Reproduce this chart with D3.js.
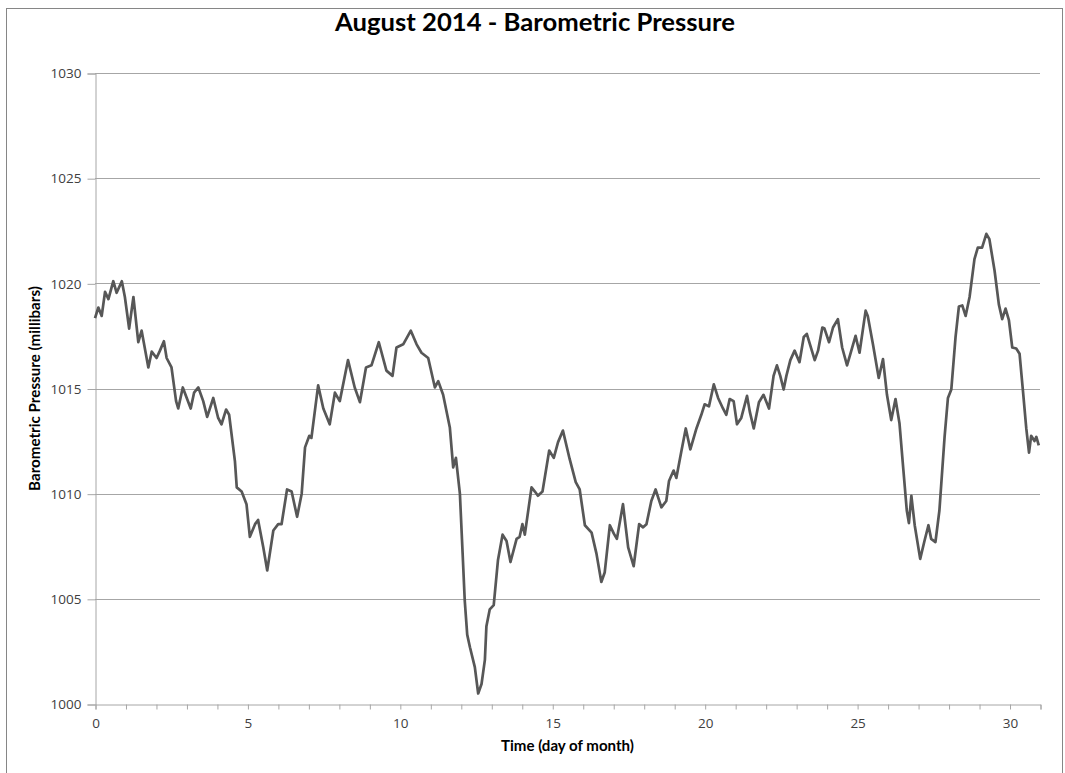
<!DOCTYPE html>
<html>
<head>
<meta charset="utf-8">
<script src="https://cdn.jsdelivr.net/npm/d3@7"></script>
<style>
  html, body { margin: 0; padding: 0; background: #ffffff; }
  svg { display: block; }
</style>
</head>
<body>
<svg id="chart" width="1065" height="773"></svg>
<script>
// ---- data ----
const chartTitle = "August 2014 - Barometric Pressure";
const xAxisTitle = "Time (day of month)";
const yAxisTitle = "Barometric Pressure (millibars)";

const xTickValues = [0, 5, 10, 15, 20, 25, 30];
const yTickValues = [1000, 1005, 1010, 1015, 1020, 1025, 1030];

const days = [
  0.00, 0.11, 0.22, 0.33, 0.44, 0.60, 0.71, 0.88, 0.98, 1.12,
  1.26, 1.42, 1.53, 1.75, 1.86, 2.02, 2.13, 2.26, 2.35, 2.51,
  2.66, 2.73, 2.88, 3.01, 3.14, 3.25, 3.39, 3.55, 3.68, 3.88,
  4.04, 4.15, 4.30, 4.40, 4.59, 4.65, 4.81, 4.97, 5.08, 5.25,
  5.35, 5.52, 5.65, 5.85, 6.01, 6.12, 6.30, 6.45, 6.63, 6.78,
  6.89, 7.03, 7.10, 7.32, 7.49, 7.70, 7.87, 8.03, 8.30, 8.52,
  8.69, 8.89, 9.07, 9.31, 9.56, 9.76, 9.89, 10.11, 10.36, 10.55,
  10.71, 10.93, 11.15, 11.26, 11.42, 11.64, 11.75, 11.84, 11.97, 12.06,
  12.13, 12.21, 12.30, 12.46, 12.57, 12.68, 12.79, 12.84, 12.95, 13.08,
  13.22, 13.37, 13.50, 13.63, 13.83, 13.93, 14.02, 14.10, 14.32, 14.43,
  14.53, 14.68, 14.90, 15.05, 15.19, 15.35, 15.57, 15.77, 15.90, 16.07,
  16.29, 16.45, 16.61, 16.72, 16.89, 17.02, 17.12, 17.32, 17.49, 17.67,
  17.85, 17.98, 18.09, 18.25, 18.39, 18.58, 18.74, 18.83, 18.98, 19.07,
  19.24, 19.38, 19.53, 19.73, 19.89, 20.00, 20.14, 20.30, 20.44, 20.60,
  20.71, 20.82, 20.95, 21.06, 21.20, 21.39, 21.48, 21.61, 21.78, 21.93,
  22.11, 22.26, 22.37, 22.48, 22.59, 22.68, 22.81, 22.95, 23.11, 23.25,
  23.35, 23.61, 23.72, 23.86, 23.93, 24.08, 24.21, 24.37, 24.51, 24.67,
  24.78, 24.95, 25.08, 25.28, 25.35, 25.52, 25.71, 25.85, 25.98, 26.12,
  26.26, 26.39, 26.52, 26.63, 26.70, 26.78, 26.89, 27.07, 27.21, 27.34,
  27.43, 27.57, 27.70, 27.87, 27.98, 28.09, 28.23, 28.34, 28.45, 28.56,
  28.69, 28.85, 28.96, 29.10, 29.24, 29.34, 29.51, 29.65, 29.76, 29.87,
  29.98, 30.09, 30.22, 30.33, 30.44, 30.55, 30.64, 30.71, 30.82, 30.88,
  30.96
];

const pressure = [
  1018.35, 1018.85, 1018.45, 1019.60, 1019.25, 1020.10, 1019.55, 1020.10, 1019.35, 1017.85,
  1019.35, 1017.20, 1017.75, 1016.00, 1016.75, 1016.45, 1016.80, 1017.25, 1016.45, 1016.00,
  1014.40, 1014.05, 1015.05, 1014.55, 1014.05, 1014.80, 1015.05, 1014.40, 1013.65, 1014.55,
  1013.60, 1013.30, 1014.00, 1013.75, 1011.55, 1010.30, 1010.10, 1009.50, 1007.95, 1008.55,
  1008.75, 1007.45, 1006.35, 1008.25, 1008.55, 1008.55, 1010.20, 1010.10, 1008.90, 1010.00,
  1012.20, 1012.75, 1012.65, 1015.15, 1014.05, 1013.30, 1014.80, 1014.40, 1016.35, 1015.05,
  1014.35, 1016.00, 1016.10, 1017.20, 1015.85, 1015.60, 1016.95, 1017.10, 1017.75, 1017.10,
  1016.70, 1016.45, 1015.05, 1015.35, 1014.70, 1013.15, 1011.25, 1011.70, 1010.00, 1007.15,
  1004.90, 1003.30, 1002.70, 1001.75, 1000.50, 1000.95, 1002.10, 1003.70, 1004.50, 1004.70,
  1006.85, 1008.05, 1007.75, 1006.75, 1007.85, 1007.95, 1008.55, 1008.05, 1010.30, 1010.10,
  1009.90, 1010.10, 1012.05, 1011.70, 1012.45, 1013.00, 1011.65, 1010.55, 1010.20, 1008.50,
  1008.15, 1007.15, 1005.80, 1006.25, 1008.50, 1008.10, 1007.85, 1009.50, 1007.45, 1006.55,
  1008.55, 1008.40, 1008.55, 1009.65, 1010.20, 1009.35, 1009.65, 1010.60, 1011.10, 1010.75,
  1012.05, 1013.10, 1012.10, 1013.10, 1013.75, 1014.25, 1014.15, 1015.20, 1014.55, 1014.05,
  1013.75, 1014.50, 1014.40, 1013.30, 1013.60, 1014.65, 1013.90, 1013.10, 1014.35, 1014.70,
  1014.05, 1015.60, 1016.10, 1015.60, 1014.95, 1015.60, 1016.35, 1016.80, 1016.25, 1017.45,
  1017.60, 1016.35, 1016.80, 1017.90, 1017.85, 1017.20, 1017.90, 1018.30, 1016.95, 1016.10,
  1016.65, 1017.50, 1016.70, 1018.70, 1018.45, 1017.10, 1015.50, 1016.40, 1014.70, 1013.50,
  1014.50, 1013.35, 1011.10, 1009.20, 1008.60, 1009.90, 1008.50, 1006.90, 1007.75, 1008.50,
  1007.85, 1007.70, 1009.20, 1012.70, 1014.55, 1014.95, 1017.45, 1018.90, 1018.95, 1018.45,
  1019.35, 1021.15, 1021.70, 1021.70, 1022.35, 1022.10, 1020.60, 1019.00, 1018.30, 1018.80,
  1018.25, 1016.95, 1016.90, 1016.65, 1014.90, 1013.10, 1011.95, 1012.75, 1012.50, 1012.70,
  1012.30
];

// ---- layout ----
const W = 1065, H = 773;
const plot = { left: 95, right: 1040, top: 73, bottom: 704 };
const gridColor = "#a6a6a6";
const axisColor = "#a6a6a6";
const lineColor = "#575757";
const textColor = "#404040";
const fontFamily = "'Open Sans', 'Liberation Sans', sans-serif";
const titleFont = "Lato, 'Open Sans', sans-serif";

const svg = d3.select("#chart");

// outer chart border
svg.append("rect")
  .attr("x", 6.5).attr("y", 8.5)
  .attr("width", 1056).attr("height", 800)
  .attr("fill", "#ffffff")
  .attr("stroke", "#868686").attr("stroke-width", 1);

const x = d3.scaleLinear().domain([0, 31]).range([plot.left, plot.right]);
const y = d3.scaleLinear().domain([1000, 1030]).range([plot.bottom, plot.top]);

// horizontal gridlines
svg.append("g")
  .selectAll("line")
  .data(yTickValues.filter(v => v !== 1000))
  .join("line")
  .attr("x1", plot.left).attr("x2", plot.right)
  .attr("y1", d => Math.round(y(d)) + 0.5).attr("y2", d => Math.round(y(d)) + 0.5)
  .attr("stroke", gridColor).attr("stroke-width", 1);

// y axis
const yAxis = d3.axisLeft(y)
  .tickValues(yTickValues)
  .tickSize(8)
  .tickPadding(6)
  .tickFormat(d3.format("d"));
const gy = svg.append("g")
  .attr("transform", `translate(${plot.left + 0.5},0.5)`)
  .call(yAxis);
gy.select(".domain").attr("stroke", axisColor);
gy.selectAll(".tick line").attr("stroke", axisColor);
gy.selectAll(".tick text")
  .attr("fill", textColor)
  .style("font-family", fontFamily)
  .style("font-size", "13.5px");

// x axis: minor ticks each day, labels every 5
const xAxis = d3.axisBottom(x)
  .tickValues(d3.range(0, 32))
  .tickSize(5)
  .tickPadding(9)
  .tickFormat(d => xTickValues.includes(d) ? String(d) : "");
const gx = svg.append("g")
  .attr("transform", `translate(0.5,${plot.bottom + 0.5})`)
  .call(xAxis);
gx.select(".domain").attr("stroke", axisColor);
gx.selectAll(".tick line").attr("stroke", axisColor);
gx.selectAll(".tick text")
  .attr("fill", textColor)
  .style("font-family", fontFamily)
  .style("font-size", "13.5px");

// data line
const series = days.map((d, i) => ({ d, v: pressure[i] }));
svg.append("path")
  .datum(series)
  .attr("fill", "none")
  .attr("stroke", lineColor)
  .attr("stroke-width", 2.7)
  .attr("stroke-linejoin", "round")
  .attr("d", d3.line().x(p => x(p.d)).y(p => y(p.v)));

// chart title
const title = svg.append("text")
  .attr("x", 535).attr("y", 31)
  .attr("text-anchor", "middle")
  .attr("fill", "#000000")
  .style("font-family", titleFont)
  .style("font-weight", "bold")
  .style("font-size", "22px")
  .text(chartTitle);
(function fit(node, target) {
  const w = node.getComputedTextLength();
  if (w > 0) node.style.fontSize = (22 * target / w).toFixed(2) + "px";
})(title.node(), 400);

// x axis title
const xt = svg.append("text")
  .attr("x", (plot.left + plot.right) / 2).attr("y", 751)
  .attr("text-anchor", "middle")
  .attr("fill", "#000000")
  .style("font-family", titleFont)
  .style("font-weight", "bold")
  .style("font-size", "13px")
  .text(xAxisTitle);
(function fit(node, target) {
  const w = node.getComputedTextLength();
  if (w > 0) node.style.fontSize = (13 * target / w).toFixed(2) + "px";
})(xt.node(), 133);

// y axis title
const yt = svg.append("text")
  .attr("transform", `translate(40,${(plot.top + plot.bottom) / 2}) rotate(-90)`)
  .attr("text-anchor", "middle")
  .attr("fill", "#000000")
  .style("font-family", titleFont)
  .style("font-weight", "bold")
  .style("font-size", "13px")
  .text(yAxisTitle);
(function fit(node, target) {
  const w = node.getComputedTextLength();
  if (w > 0) node.style.fontSize = (13 * target / w).toFixed(2) + "px";
})(yt.node(), 205);
</script>
</body>
</html>
